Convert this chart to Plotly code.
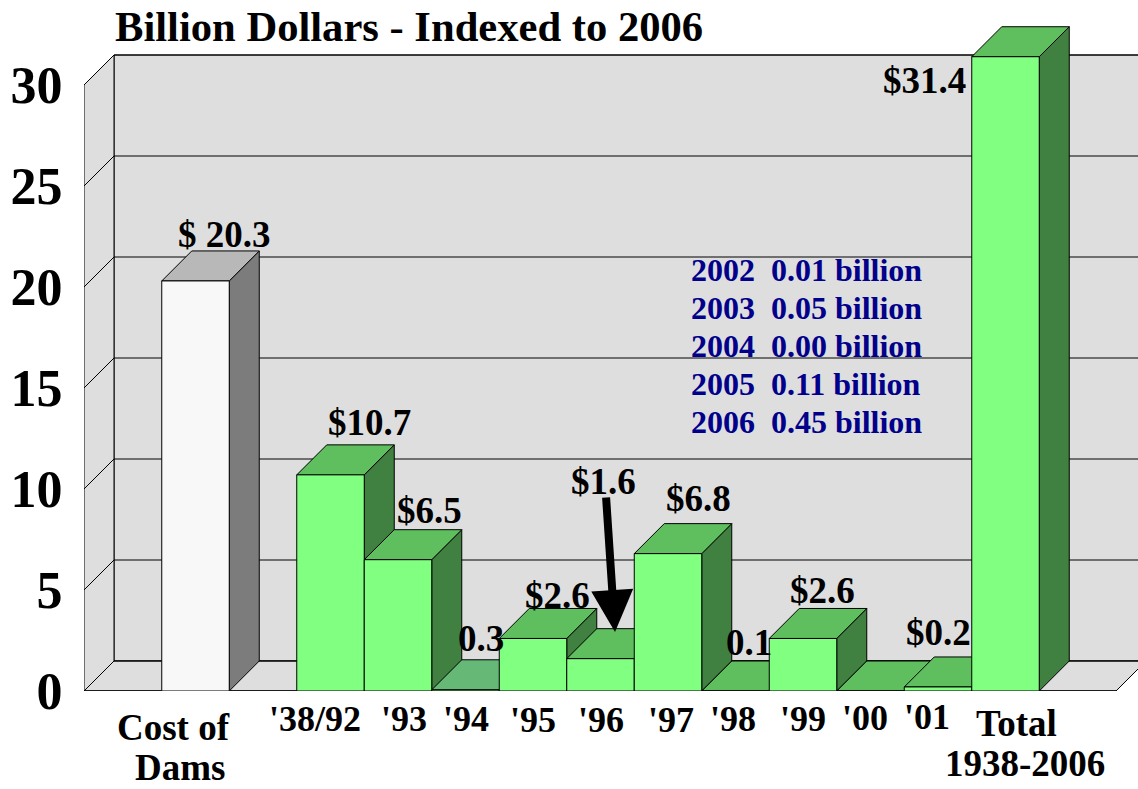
import plotly.graph_objects as go

# ---------- data ----------
categories = ["Cost of Dams", "'38/92", "'93", "'94", "'95", "'96", "'97", "'98", "'99", "'00", "'01", "Total 1938-2006"]
positions = [0, 2, 3, 4, 5, 6, 7, 8, 9, 10, 11, 12]
values = [20.3, 10.7, 6.5, 0.06, 2.6, 1.6, 6.8, 0.0, 2.6, 0.0, 0.2, 31.4]
value_labels = ["$ 20.3", "$10.7", "$6.5", "0.3", "$2.6", "$1.6", "$6.8", "0.1", "$2.6", "", "$0.2", "$31.4"]
y_ticks = [0, 5, 10, 15, 20, 25, 30]
notes_years = ["2002", "2003", "2004", "2005", "2006"]
notes_amounts = ["0.01", "0.05", "0.00", "0.11", "0.45"]
title_text = "Billion Dollars - Indexed to 2006"

# ---------- styles / geometry ----------
FONT = "Liberation Serif"
PX_X, PX_Y = 67.5, 20.2     # pixels per unit
X0_PX, Y0_PX = 195.5, 691   # pixel of x=0 and y=0
DX, DY = 30 / PX_X, 30 / PX_Y
LEFT_PX = 84

def xd(px):
    return (px - X0_PX) / PX_X

def yd(py):
    return (Y0_PX - py) / PX_Y

xmin, xmax = xd(LEFT_PX), xd(1138)
ymax = yd(0)
floor_right = xd(1116)
WALL = "#dedede"
LINE = "#000000"

front = ["#f8f8f8"] + ["#80ff80"] * 11
top = ["#b8b8b8"] + ["#5fbf5f"] * 11
top[3] = "#66b877"
side = ["#7c7c7c"] + ["#408040"] * 11

fig = go.Figure()

def poly(xs, ys, fill, line=LINE, w=1):
    fig.add_trace(go.Scatter(x=xs, y=ys, mode="lines", fill="toself", fillcolor=fill,
                             line=dict(color=line, width=w), hoverinfo="skip", showlegend=False))

def path(xs, ys, w=1):
    fig.add_trace(go.Scatter(x=xs, y=ys, mode="lines", line=dict(color=LINE, width=w),
                             hoverinfo="skip", showlegend=False))

# walls and floor
top_g = y_ticks[-1]
poly([xmin + DX, xmax + 1, xmax + 1, xmin + DX, xmin + DX], [DY, DY, top_g + DY, top_g + DY, DY], WALL)
poly([xmin, xmin + DX, xmin + DX, xmin, xmin], [0, DY, top_g + DY, top_g, 0], WALL)
poly([xmin, floor_right, floor_right + DX, xmin + DX, xmin], [0, 0, DY, DY, 0], WALL)
for g in y_ticks:
    path([xmin, xmin + DX, xmax + 1], [g, g + DY, g + DY])
path([xmin, floor_right], [0, 0], 1.5)

# side and top faces, left to right
for p, v, t, s in zip(positions, values, top, side):
    l, r = p - 0.5, p + 0.5
    poly([r, r + DX, r + DX, r, r], [0, DY, v + DY, v, 0], s)
    poly([l, r, r + DX, l + DX, l], [v, v, v + DY, v + DY, v], t)

# front faces, on an overlaid pair of axes so that they sit above the side faces
fig.add_trace(go.Bar(x=positions, y=values, width=1, xaxis="x2", yaxis="y2",
                     marker=dict(color=front, line=dict(color=LINE, width=1)),
                     hovertext=categories, showlegend=False))

# ---------- text (paper coordinates, so that labels below the axis are kept) ----------
def xp(px):
    return (px - LEFT_PX) / (1138 - LEFT_PX)

def yp(py):
    return (Y0_PX - py) / Y0_PX

def text(px, py, s, size, color="black", anchor="center"):
    fig.add_annotation(x=xp(px), y=yp(py), xref="paper", yref="paper", text=f"<b>{s}</b>", showarrow=False,
                       xanchor=anchor, yanchor="middle", font=dict(family=FONT, size=size, color=color))

label_px = [(224, 234), (369, 422), (429, 510), (481, 638), (557, 595), (603, 481),
            (698, 498), (749, 642), (822, 590), (0, 0), (938, 632), (924, 80)]
for (px, py), s in zip(label_px, value_labels):
    if s:
        text(px, py, s, 37)

cat_px = [(174, 0), (315, 719), (404, 719), (466, 719), (533, 720), (601, 720), (671, 720),
          (733, 719), (803, 719), (865, 718), (927, 717), (1025, 0)]
for (px, py), s in zip(cat_px, categories):
    if s == "Cost of Dams":
        text(173, 727, "Cost of", 37)
        text(180, 767, "Dams", 37)
    elif s.startswith("Total"):
        text(1016, 723, "Total", 37)
        text(1025, 764, "1938-2006", 37)
    else:
        text(px, py, s, 36)

for i, (yr, amt) in enumerate(zip(notes_years, notes_amounts)):
    text(689, 270 + 38 * i, f"{yr}\u00a0\u00a0{amt} billion", 32, "#00008b", "left")

# arrow to the '96 bar
fig.add_annotation(x=xd(615), y=yd(632), ax=xd(606), ay=yd(496), xref="x", yref="y", axref="x", ayref="y",
                   text="", showarrow=True, arrowhead=2, arrowsize=1.05, arrowwidth=8, arrowcolor="black")

axis_common = dict(range=[xmin, xmax], showgrid=False, zeroline=False)
fig.update_layout(
    width=1138, height=789, autosize=False,
    margin=dict(l=LEFT_PX, r=0, t=0, b=98, pad=0),
    paper_bgcolor="white", plot_bgcolor="white", showlegend=False,
    title=dict(text=f"<b>{title_text}</b>", x=115 / 1138, xanchor="left", xref="container",
               y=1 - 26 / 789, yanchor="middle", yref="container",
               font=dict(family=FONT, size=42.6, color="black")),
    xaxis=dict(**axis_common, showticklabels=False, ticks="", showline=False),
    yaxis=dict(range=[0, ymax], showgrid=False, zeroline=False, showline=False, tickvals=y_ticks,
               ticks="outside", ticklen=10, tickcolor="rgba(0,0,0,0)",
               tickfont=dict(family=FONT, size=52, color="black", weight="bold")),
    xaxis2=dict(**axis_common, overlaying="x", visible=False),
    yaxis2=dict(range=[0, ymax], overlaying="y", visible=False, showgrid=False, zeroline=False),
)

fig.write_html("out.html", config={"displayModeBar": False},
               post_script="document.body.style.margin='0';document.body.style.overflow='hidden';")
